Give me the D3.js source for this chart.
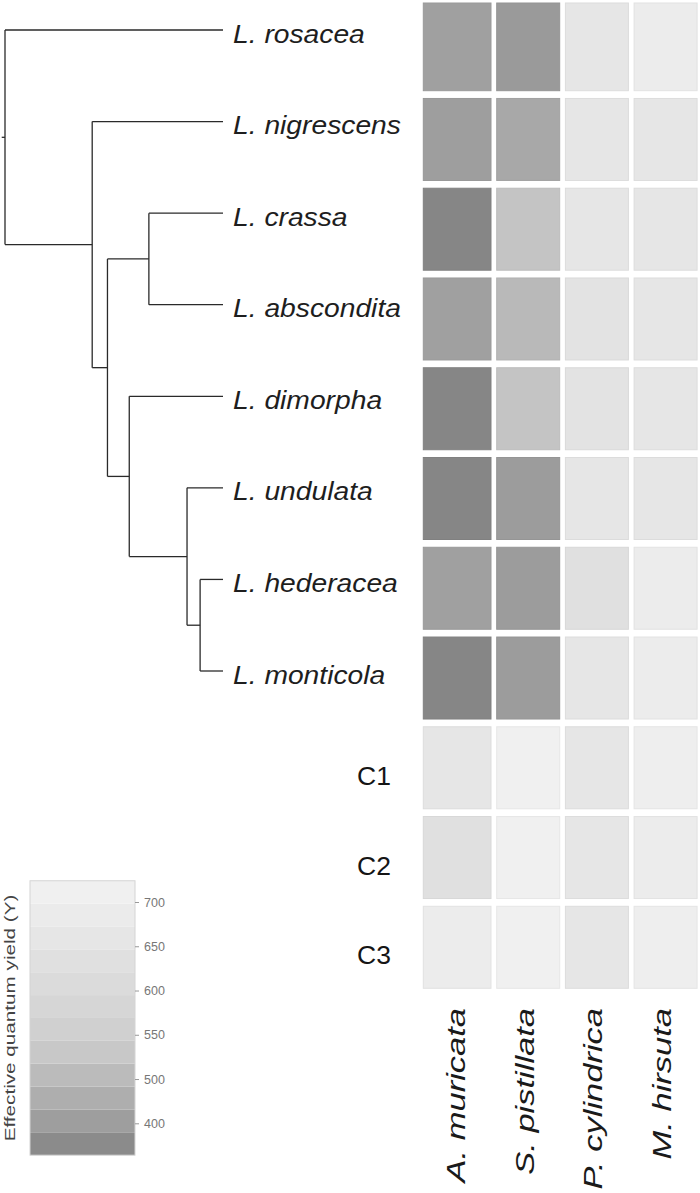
<!DOCTYPE html>
<html>
<head>
<meta charset="utf-8">
<script src="https://cdn.jsdelivr.net/npm/d3@7"></script>
<style>
  html, body { margin: 0; padding: 0; background: #fff; }
  svg { display: block; }
  text { font-family: "Liberation Sans", Arial, Helvetica, sans-serif; }
</style>
</head>
<body>
<svg id="chart" width="700" height="1193"></svg>
<script>
// ---------------- data ----------------
const species = ["L. rosacea", "L. nigrescens", "L. crassa", "L. abscondita",
                 "L. dimorpha", "L. undulata", "L. hederacea", "L. monticola"];
const controls = ["C1", "C2", "C3"];
const hosts = ["A. muricata", "S. pistillata", "P. cylindrica", "M. hirsuta"];

// effective quantum yield (x1000), one array per host, rows = species then controls
const yieldAmur = [455, 452, 418, 455, 418, 418, 455, 418, 661, 632, 690];
const yieldSpis = [447, 466, 522, 500, 522, 450, 450, 450, 709, 709, 709];
const yieldPcyl = [661, 661, 661, 646, 646, 661, 632, 661, 661, 661, 661];
const yieldMhir = [690, 661, 661, 661, 661, 661, 690, 690, 700, 690, 700];

// phylogeny (branch lengths, relative)
const treeData = { len: 0, children: [
  { name: "L. rosacea", len: 1.0 },
  { len: 0.40, children: [
    { name: "L. nigrescens", len: 0.60 },
    { len: 0.07, children: [
      { len: 0.19, children: [
        { name: "L. crassa", len: 0.34 },
        { name: "L. abscondita", len: 0.34 }
      ]},
      { len: 0.10, children: [
        { name: "L. dimorpha", len: 0.43 },
        { len: 0.265, children: [
          { name: "L. undulata", len: 0.165 },
          { len: 0.06, children: [
            { name: "L. hederacea", len: 0.105 },
            { name: "L. monticola", len: 0.105 }
          ]}
        ]}
      ]}
    ]}
  ]}
]};

// legend
const legendTickValues = [700, 650, 600, 550, 500, 450];
const legendTickLabels = ["700", "650", "600", "550", "500", "400"];
const legendTitle = "Effective quantum yield (Y)";
const legendExtent = [414, 724];
const legendBins = 12;

// ---------------- drawing ----------------
const svg = d3.select("#chart");
const yieldByHost = [yieldAmur, yieldSpis, yieldPcyl, yieldMhir];
const rows = species.concat(controls);

const color = d3.scaleLinear()
  .domain([420, 466, 540, 724])
  .range(["#868686", "#a8a8a8", "#cdcdcd", "#f3f3f3"])
  .clamp(true);

// heatmap scales
const x = d3.scaleBand().domain(hosts).range([428, 697.1]).paddingInner(0.083);
const y = d3.scaleBand().domain(rows).range([8.7, 988.3]).paddingInner(0.0865);

const cells = [];
rows.forEach((r, ri) => hosts.forEach((h, hi) => {
  cells.push({ row: r, host: h, ri, hi, value: yieldByHost[hi][ri] });
}));

const g = svg.append("g");
g.selectAll("rect.cell").data(cells).join("rect")
  .attr("class", "cell")
  .attr("x", d => d.hi === 0 ? x(d.host) - 4.7 : x(d.host))
  .attr("width", d => d.hi === 0 ? x.bandwidth() + 4.7 : x.bandwidth())
  .attr("y", d => d.ri === 0 ? y(d.row) - 5.7 : y(d.row))
  .attr("height", d => d.ri === 0 ? y.bandwidth() + 5.7 : y.bandwidth())
  .attr("fill", d => color(d.value))
  .attr("stroke", d => d3.color(color(d.value)).darker(0.12))
  .attr("stroke-width", 1);

// control labels
g.selectAll("text.ctrl").data(controls).join("text")
  .attr("class", "ctrl")
  .attr("x", 357)
  .attr("y", d => y(d) + y.bandwidth() / 2 + 17)
  .attr("font-size", 26.5)
  .attr("fill", "#151515")
  .text(d => d);

// column labels
g.selectAll("text.host").data(hosts).join("text")
  .attr("class", "host")
  .attr("transform", d => `translate(${x(d) + x.bandwidth() / 2 + 5.5},1008) rotate(-90) scale(1.38,1)`)
  .attr("text-anchor", "end")
  .attr("font-size", 25)
  .attr("font-style", "italic")
  .attr("fill", "#1a1a1a")
  .text(d => d);

// ---------------- tree ----------------
const root = d3.hierarchy(treeData);
root.eachBefore(n => { n.dist = (n.parent ? n.parent.dist : 0) + (n.data.len || 0); });
const tx = d3.scaleLinear().domain([0, 1]).range([5, 223]);
const ty = d3.scalePoint().domain(species).range([30, 671]);
root.eachAfter(n => {
  if (!n.children) n.yy = ty(n.data.name);
  else n.yy = (n.children[0].yy + n.children[n.children.length - 1].yy) / 2;
});

const tree = svg.append("g")
  .attr("fill", "none").attr("stroke", "#2a2a2a").attr("stroke-width", 1.3);
// horizontal branches
tree.selectAll("line.h").data(root.descendants().filter(n => n.parent)).join("line")
  .attr("class", "h")
  .attr("x1", n => tx(n.parent.dist)).attr("x2", n => tx(n.dist))
  .attr("y1", n => n.yy).attr("y2", n => n.yy);
// vertical connectors
tree.selectAll("line.v").data(root.descendants().filter(n => n.children)).join("line")
  .attr("class", "v")
  .attr("x1", n => tx(n.dist)).attr("x2", n => tx(n.dist))
  .attr("y1", n => n.children[0].yy).attr("y2", n => n.children[n.children.length - 1].yy);
// root stub
tree.append("line")
  .attr("x1", tx(-0.015)).attr("x2", tx(0))
  .attr("y1", root.yy).attr("y2", root.yy);

// species labels
svg.selectAll("text.sp").data(root.leaves()).join("text")
  .attr("class", "sp")
  .attr("transform", n => `translate(233,${n.yy + 12.5}) scale(1.13,1)`)
  .attr("font-size", 25)
  .attr("font-style", "italic")
  .attr("fill", "#1e1e1e")
  .text(n => n.data.name);

// ---------------- legend ----------------
const ly = d3.scaleLinear().domain([450, 700]).range([1123.3, 902]);
const lx0 = 30, lx1 = 135;
const step = (legendExtent[1] - legendExtent[0]) / legendBins;
const bins = d3.range(legendBins).map(i => ({
  lo: legendExtent[0] + i * step,
  hi: legendExtent[0] + (i + 1) * step
}));
const lg = svg.append("g");
lg.selectAll("rect.bin").data(bins).join("rect")
  .attr("class", "bin")
  .attr("x", lx0).attr("width", lx1 - lx0)
  .attr("y", d => ly(d.hi)).attr("height", d => ly(d.lo) - ly(d.hi))
  .attr("fill", d => color((d.lo + d.hi) / 2));
lg.append("rect")
  .attr("x", lx0).attr("y", ly(legendExtent[1]))
  .attr("width", lx1 - lx0).attr("height", ly(legendExtent[0]) - ly(legendExtent[1]))
  .attr("fill", "none").attr("stroke", "#d4d4d4").attr("stroke-width", 1);

const axis = lg.append("g")
  .attr("transform", `translate(${lx1},0)`)
  .call(d3.axisRight(ly).tickValues(legendTickValues)
    .tickFormat((d, i) => legendTickLabels[i]).tickSize(4).tickPadding(5));
axis.select(".domain").remove();
axis.selectAll(".tick line").attr("stroke", "#999");
axis.selectAll(".tick text")
  .attr("fill", "#777")
  .attr("font-size", 12.5)
  .attr("font-family", "\"Liberation Sans\", Arial, sans-serif");

lg.append("text")
  .attr("transform", `translate(15,${(ly(legendExtent[0]) + ly(legendExtent[1])) / 2}) rotate(-90) scale(1.38,1)`)
  .attr("text-anchor", "middle")
  .attr("font-size", 15)
  .attr("fill", "#444")
  .text(legendTitle);
</script>
</body>
</html>
